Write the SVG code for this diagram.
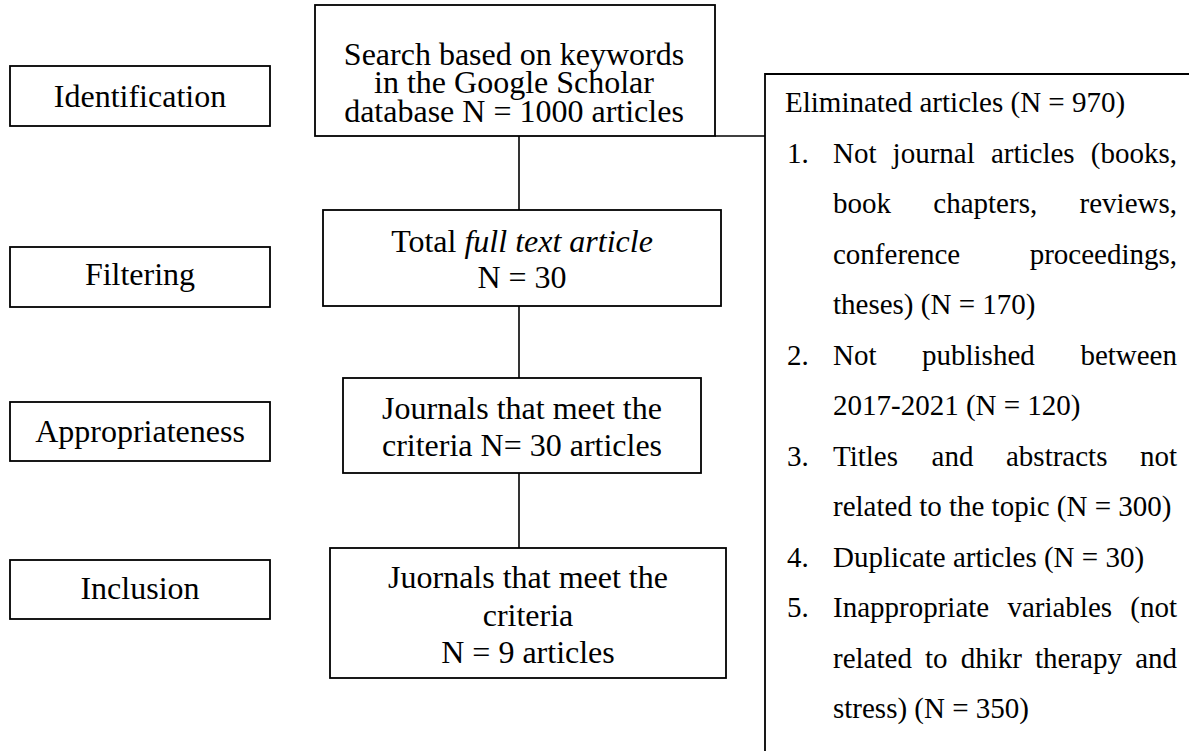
<svg xmlns="http://www.w3.org/2000/svg" width="1189" height="751" viewBox="0 0 1189 751">
<style>
.box{fill:#fff;stroke:#000;stroke-width:1.8}
.ln{fill:none;stroke:#000;stroke-width:1.6}
.t{font-family:"Liberation Serif","Times New Roman",serif;font-size:32px;fill:#000}
.c{text-anchor:middle}
.r{font-family:"Liberation Serif","Times New Roman",serif;font-size:29px;fill:#000}
.e{text-anchor:end}
</style>
<rect width="1189" height="751" fill="#fff"/>
<g id="connectors">
<line class="ln" x1="519" y1="136" x2="519" y2="210"/>
<line class="ln" x1="519" y1="306" x2="519" y2="378"/>
<line class="ln" x1="519" y1="473" x2="519" y2="548"/>
<line class="ln" x1="715" y1="136" x2="765" y2="136"/>
</g>
<g id="identification"><rect class="box" x="10" y="66" width="260" height="60"/><text class="t c" x="140" y="107">Identification</text></g>
<g id="filtering"><rect class="box" x="10" y="247" width="260" height="60"/><text class="t c" x="140" y="285">Filtering</text></g>
<g id="appropriateness"><rect class="box" x="10" y="402" width="260" height="59"/><text class="t c" x="140" y="442">Appropriateness</text></g>
<g id="inclusion"><rect class="box" x="10" y="560" width="260" height="59"/><text class="t c" x="140" y="599">Inclusion</text></g>
<g id="search"><rect class="box" x="315" y="5" width="400" height="131"/>
<text class="t c" x="514" y="65">Search based on keywords</text>
<text class="t c" x="514" y="93">in the Google Scholar</text>
<text class="t c" x="514" y="122">database N = 1000 articles</text></g>
<g id="fulltext"><rect class="box" x="323" y="210" width="398" height="96"/>
<text class="t c" x="522" y="252">Total <tspan font-style="italic">full text article</tspan></text>
<text class="t c" x="522" y="288">N = 30</text></g>
<g id="criteria30"><rect class="box" x="343" y="378" width="358" height="95"/>
<text class="t c" x="522" y="419">Journals that meet the</text>
<text class="t c" x="522" y="456">criteria N= 30 articles</text></g>
<g id="criteria9"><rect class="box" x="330" y="548" width="396" height="130"/>
<text class="t c" x="528" y="588">Juornals that meet the</text>
<text class="t c" x="528" y="626">criteria</text>
<text class="t c" x="528" y="663">N = 9 articles</text></g>
<g id="eliminated">
<path class="box" d="M1195,74 H765 V760"/>
<text class="r" x="785" y="112">Eliminated articles (N = 970)</text>
<text class="r" x="787" y="162.5">1.</text>
<text class="r" y="162.5"><tspan x="833">Not</tspan><tspan x="892.6">journal</tspan><tspan x="990.9">articles</tspan></text><text class="r e" x="1177" y="162.5">(books,</text>
<text class="r" y="213"><tspan x="833">book</tspan><tspan x="933.3">chapters,</tspan></text><text class="r e" x="1177" y="213">reviews,</text>
<text class="r" x="833" y="263.5">conference</text><text class="r e" x="1177" y="263.5">proceedings,</text>
<text class="r" x="833" y="314">theses) (N = 170)</text>
<text class="r" x="787" y="364.5">2.</text>
<text class="r" y="364.5"><tspan x="833">Not</tspan><tspan x="922">published</tspan></text><text class="r e" x="1177" y="364.5">between</text>
<text class="r" x="833" y="415">2017-2021 (N = 120)</text>
<text class="r" x="787" y="465.5">3.</text>
<text class="r" y="465.5"><tspan x="833">Titles</tspan><tspan x="931.6">and</tspan><tspan x="1006">abstracts</tspan></text><text class="r e" x="1177" y="465.5">not</text>
<text class="r" x="833" y="516">related to the topic (N = 300)</text>
<text class="r" x="787" y="566.5">4.</text>
<text class="r" x="833" y="566.5">Duplicate articles (N = 30)</text>
<text class="r" x="787" y="617">5.</text>
<text class="r" y="617"><tspan x="833">Inappropriate</tspan><tspan x="1007.4">variables</tspan></text><text class="r e" x="1177" y="617">(not</text>
<text class="r" y="667.5"><tspan x="833">related</tspan><tspan x="925">to</tspan><tspan x="960.7">dhikr</tspan><tspan x="1035">therapy</tspan></text><text class="r e" x="1177" y="667.5">and</text>
<text class="r" x="833" y="718">stress) (N = 350)</text>
</g>
</svg>
